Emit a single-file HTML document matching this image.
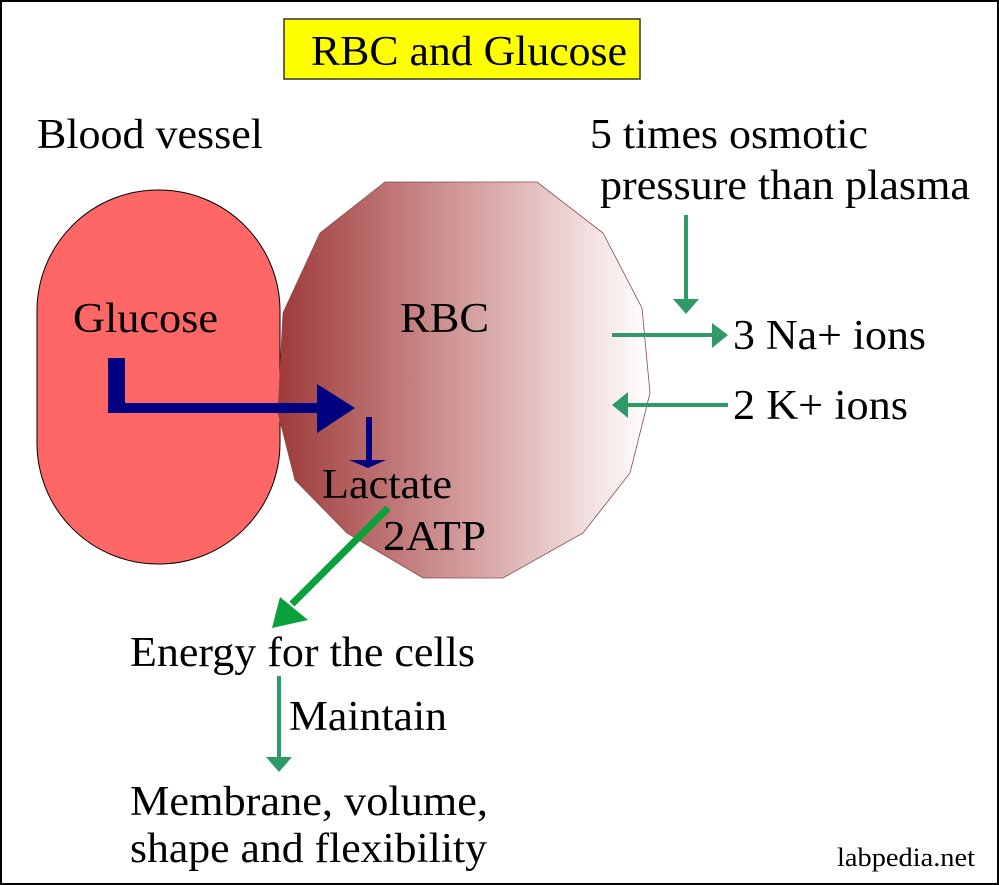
<!DOCTYPE html>
<html><head><style>
body{margin:0;background:#fff}
svg{display:block}
text{font-family:"Liberation Serif",serif;fill:#000}
</style></head><body>
<svg width="999" height="885" viewBox="0 0 999 885">
<defs>
<linearGradient id="g" x1="0" x2="1" y1="0" y2="0">
<stop offset="0" stop-color="#9e3a3a"/>
<stop offset="0.5" stop-color="#d39b9b"/>
<stop offset="0.85" stop-color="#f3e2e2"/>
<stop offset="1" stop-color="#ffffff"/>
</linearGradient>
</defs>
<rect x="1" y="1" width="997" height="883" fill="#fff" stroke="#000" stroke-width="2"/>
<rect x="284" y="19" width="356" height="60" fill="#ffff00" stroke="#333" stroke-width="1.5"/>
<text x="311" y="65" font-size="42" textLength="316" lengthAdjust="spacingAndGlyphs">RBC and Glucose</text>
<text x="37" y="148" font-size="42" textLength="226" lengthAdjust="spacingAndGlyphs">Blood vessel</text>
<text x="590" y="148" font-size="42" textLength="278" lengthAdjust="spacingAndGlyphs">5 times osmotic</text>
<text x="600" y="199" font-size="42" textLength="370" lengthAdjust="spacingAndGlyphs">pressure than plasma</text>
<rect x="37" y="190" width="243" height="374" rx="121" ry="121" fill="#ff6666" stroke="#000" stroke-width="1"/>
<polygon points="385,182 537,182 603,233 642,308 650,393 630,473 583,533 503,578 423,578 347,533 295,480 278,413 283,313 320,233" fill="url(#g)" stroke="#8a4a4a" stroke-width="0.8"/>
<text x="73" y="332" font-size="42" textLength="145" lengthAdjust="spacingAndGlyphs">Glucose</text>
<text x="400" y="332" font-size="42" textLength="89" lengthAdjust="spacingAndGlyphs">RBC</text>
<rect x="108" y="358" width="17" height="55" fill="#000080"/>
<rect x="108" y="403" width="212" height="10" fill="#000080"/>
<polygon points="317,384 355,408 317,433" fill="#000080"/>
<rect x="366" y="417" width="6" height="46" fill="#000080"/>
<polygon points="349,460 386,460 368,468" fill="#000080"/>
<text x="322" y="498" font-size="42" textLength="130" lengthAdjust="spacingAndGlyphs">Lactate</text>
<text x="383" y="550" font-size="42" textLength="103" lengthAdjust="spacingAndGlyphs">2ATP</text>
<line x1="388" y1="508" x2="292" y2="604" stroke="#0aa03a" stroke-width="7"/>
<polygon points="272,628 280,597 308,620" fill="#0aa03a"/>
<text x="130" y="666" font-size="42" textLength="345" lengthAdjust="spacingAndGlyphs">Energy for the cells</text>
<line x1="279" y1="676" x2="279" y2="760" stroke="#2e9a68" stroke-width="4"/>
<polygon points="266,757 292,757 279,772" fill="#2e9a68"/>
<text x="289" y="730" font-size="42" textLength="158" lengthAdjust="spacingAndGlyphs">Maintain</text>
<text x="130" y="815" font-size="42" textLength="358" lengthAdjust="spacingAndGlyphs">Membrane, volume,</text>
<text x="130" y="862" font-size="42" textLength="357" lengthAdjust="spacingAndGlyphs">shape and flexibility</text>
<line x1="686" y1="215" x2="686" y2="302" stroke="#2e9a68" stroke-width="4"/>
<polygon points="673,299 699,299 686,314" fill="#2e9a68"/>
<line x1="612" y1="335" x2="715" y2="335" stroke="#2e9a68" stroke-width="4"/>
<polygon points="712,323 712,348 728,335" fill="#2e9a68"/>
<text x="733" y="349" font-size="42" textLength="193" lengthAdjust="spacingAndGlyphs">3 Na+ ions</text>
<line x1="625" y1="405" x2="728" y2="405" stroke="#2e9a68" stroke-width="4"/>
<polygon points="628,392 628,418 612,405" fill="#2e9a68"/>
<text x="733" y="419" font-size="42" textLength="175" lengthAdjust="spacingAndGlyphs">2 K+ ions</text>
<text x="837" y="866" font-size="26" textLength="138" lengthAdjust="spacingAndGlyphs">labpedia.net</text>
</svg>
</body></html>
